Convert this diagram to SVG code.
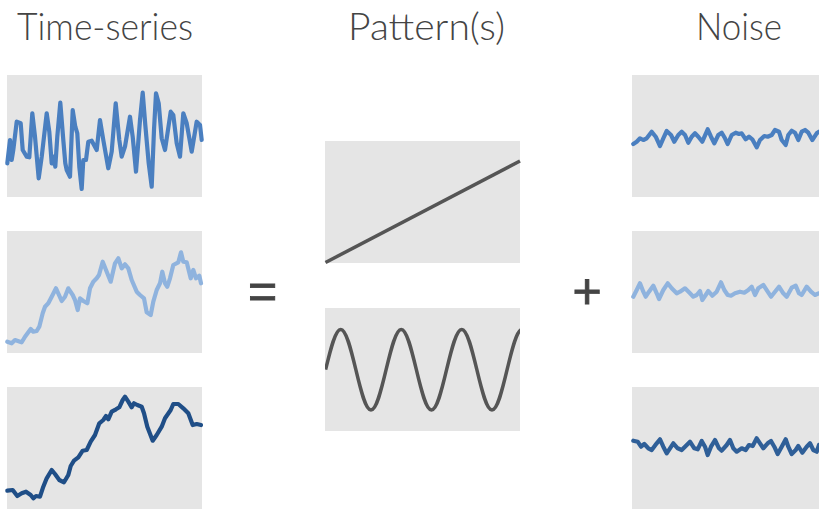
<svg xmlns="http://www.w3.org/2000/svg" width="819" height="509" viewBox="0 0 819 509">
<style>
.bg{fill:#e5e5e5}
.ttl{font-family:"Lato","Open Sans","Liberation Sans",sans-serif;font-weight:300;font-size:38px;fill:#444}
.op{font-family:"Liberation Sans","DejaVu Sans",sans-serif;font-size:50px;fill:#444;stroke:#444;stroke-width:0.9;text-anchor:middle}
.ln{fill:none;stroke-width:4.2;stroke-linejoin:round;stroke-linecap:round}
.b1{stroke:#4a7fc0}
.b2{stroke:#8fb3de}
.b3{stroke:#1f4e87}
.b4{stroke:#2f5f98}
.gr{fill:none;stroke:#555;stroke-width:3.5;stroke-linecap:butt}
</style>
<defs>
<clipPath id="cm"><rect x="325" y="308" width="195" height="123"/></clipPath>
</defs>
<rect width="819" height="509" fill="#fff"/>
<g id="titles">
<text class="ttl" x="17" y="40" textLength="176" lengthAdjust="spacingAndGlyphs">Time-series</text>
<text class="ttl" x="348" y="40" textLength="157" lengthAdjust="spacingAndGlyphs">Pattern(s)</text>
<text class="ttl" x="696" y="40" textLength="86" lengthAdjust="spacingAndGlyphs">Noise</text>
</g>
<g id="ts1">
<rect class="bg" x="7" y="75" width="195" height="122"/>
<polyline class="ln b1" points="7.3,163.3 10,140 11.7,160 13.3,150 16.7,121.7 20.7,123.3 22.7,150 26.7,156.7 29.3,157.3 32.3,113.3 35,136.7 38.7,178.3 41.7,156.7 46.7,113.3 49.3,131.7 51.7,163.3 54,156.7 55.3,166.7 57.3,136.7 60.3,102.7 63.3,140 65.3,163.3 66.7,170 70,176.7 72.7,110 75.3,126.7 77.3,133.3 79.3,166.7 81.7,189 83.3,160 86,160 88.3,141.7 91.7,140.7 96.7,150 100,120 103.3,140 108.3,168.3 111.7,151.7 115.7,103.3 119.3,140 121.7,156.7 125,146.7 130,116.7 132.7,136.7 136,171.7 140,120 142.7,92.7 145.3,125 148.7,163.3 151.7,186.7 154,130 156,93.3 158.7,103.3 161.7,138.3 165,150 170.7,111.7 173.3,115 176.7,143.3 180,156.7 183.3,113.3 186.7,123.3 191.7,151.7 196.7,121.7 200,125 201.7,140"/>
</g>
<g id="ts2">
<rect class="bg" x="7" y="231" width="195" height="122"/>
<polyline class="ln b2" points="7.3,341.7 11.7,343.3 15,340 20,341.7 21.7,342.3 25,336.7 30.7,329 33.3,331.7 36.7,331 39.3,326.7 42.7,313.3 45,306.7 48.3,303.3 51.7,296.7 56,288.3 61.7,301 65,296.7 68.3,288.3 72.7,295 75,300 77.7,310 80,298.3 83.3,301 87.3,303.3 90,288.3 93.3,281.7 96.7,278.3 99,275 102.7,261.7 106.7,271.7 110.7,281.7 115,263.3 118.3,258.3 121.7,268.3 125,264.3 128.3,268.3 131.7,280 136.7,291.7 140,295 144,298.3 146.7,312.3 150.7,315 153.3,301.7 156.7,290 160,283.3 162.3,271.7 165,283.3 167.3,286.7 170,278.3 173.3,265 178.3,262.3 181,252.3 183.3,261.7 186.7,262.3 190.7,278.3 193.3,270 196,278.3 199.3,275.7 201,283.3"/>
</g>
<g id="ts3">
<rect class="bg" x="7" y="387" width="195" height="122"/>
<polyline class="ln b3" points="7.3,490.7 12.7,490 17.3,496 21.7,493.3 26,491.7 30.7,495 33.3,498.3 36,496 40,496.7 43.3,486.7 46.7,478.3 51.7,470 55,474 59.3,480 64,482.3 68.3,475 70.7,466 74,460.7 78.3,457.3 82.7,450.7 86.7,450 90.7,441.7 95,435 99.3,423.3 103.3,420 106,416 108.3,419.3 111.7,411.7 116,409.3 119.3,407.3 122.7,400 125,396.7 128.3,401.7 131.7,407.3 134,403.3 137.3,405 141.7,406.7 144,413.3 147.3,426.7 152.7,440.7 156.7,435 161.7,426.7 165,418.3 170.7,410 173.3,404 178.3,404 183.3,408.3 188.3,413.3 192.7,425 196.7,424 201,425"/>
</g>
<g id="pattern-trend">
<rect class="bg" x="325" y="141" width="195" height="122"/>
<line class="gr" x1="325.5" y1="262.5" x2="520" y2="161"/>
</g>
<g id="pattern-season">
<rect class="bg" x="325" y="308" width="195" height="123"/>
<path class="gr" clip-path="url(#cm)" d="M325.6,369.7 C330.53,349.05 335.25,329.4 340.73,329.4 S350.92,349.05 355.85,369.7 S365.5,410 370.98,410 S381.17,390.35 386.1,369.7 S395.75,329.4 401.23,329.4 S411.42,349.05 416.35,369.7 S426,410 431.48,410 S441.67,390.35 446.6,369.7 S456.25,329.4 461.73,329.4 S471.92,349.05 476.85,369.7 S486.5,410 491.98,410 S502.17,390.35 507.1,369.7 S516.75,329.4 522.23,329.4"/>
</g>
<g id="noise1">
<rect class="bg" x="632" y="75" width="190" height="122"/>
<polyline class="ln b1" points="633.3,144 636.7,141.7 640,138.3 643.3,140 646.7,138.3 651.7,131.7 655.7,136.7 660,146 663.3,138.3 666.7,131 671,135 674.3,141.7 678.3,135 681.7,131.7 685,135 688.3,142.7 691.7,136.7 695,133.3 698.3,136.7 702.3,141.7 707.7,129.3 711,136.7 714.3,143.3 718.3,135 721.7,132.7 725,138.3 727.7,144 731.7,135 735.7,132.7 739,134 741.7,133.3 745.7,139.3 749,136.7 752.3,139.3 756.7,147.3 760,140 764.3,136 767.7,136.7 771.7,135 775,130 779,131.7 781.7,140 785.7,145 788.3,135 791.7,130.7 795,132.7 798.3,140 801.7,131.7 805,130 808.3,132.7 812.3,140 816.7,133.3 819,131.7"/>
</g>
<g id="noise2">
<rect class="bg" x="632" y="231" width="190" height="122"/>
<polyline class="ln b2" points="633.3,296.7 636.7,290 640,283.3 643.3,291.7 645.7,296.7 649,291.7 653.3,285.7 656.7,293.3 659,299 663.3,290 667.7,283.3 671.7,288.3 676.7,293.3 680,291.7 685,288.3 690,293.3 693.3,296.7 696.7,295 700,291 702.3,300 705.7,295 708.3,291 712.3,295.7 716.7,291.7 721,282.3 724.3,290 727.7,295 731,295.7 735,293.3 740,291.7 744.3,292.7 748.3,290 751.7,286.7 755,295 758.3,288.3 763.3,285 767.7,291.7 771,296.7 775,291.7 779,286.7 783.3,293.3 786.7,296.7 791.7,287.7 795.7,285.7 799,293.3 801.7,295 806.7,286.7 811,291.7 815,295 819,293.3"/>
</g>
<g id="noise3">
<rect class="bg" x="632" y="387" width="190" height="122"/>
<polyline class="ln b4" points="633.3,440.7 637.7,441.7 641,446.7 644.3,444 648.3,448.3 651.7,450 656.7,443.3 660,439.3 663.3,446.7 666.7,453.3 670,448.3 673.3,443.3 677.7,448.3 681.7,450 685,446.7 690,441.7 694.3,448.3 697.7,449.3 701.7,441 705,446.7 707.7,455 711,446.7 715,440 719,448.3 721.7,450.7 726.7,445 730,440 733.3,448.3 736.7,451.7 741.7,448.3 745.7,450 749,445 752.7,446 756.7,438.3 760,443.3 763.3,448.3 767.7,443.3 771,441 774.3,446.7 777.7,454 781.7,446.7 785.7,439.3 788.3,446.7 791.7,454 795.7,450 798.3,446 802.3,452.7 806.7,446.7 810,443.3 813.3,450 816.7,451.7 819,445"/>
</g>
<g id="connectors">
<text class="op" x="262.5" y="308">=</text>
<text class="op" x="587" y="308">+</text>
</g>
</svg>
